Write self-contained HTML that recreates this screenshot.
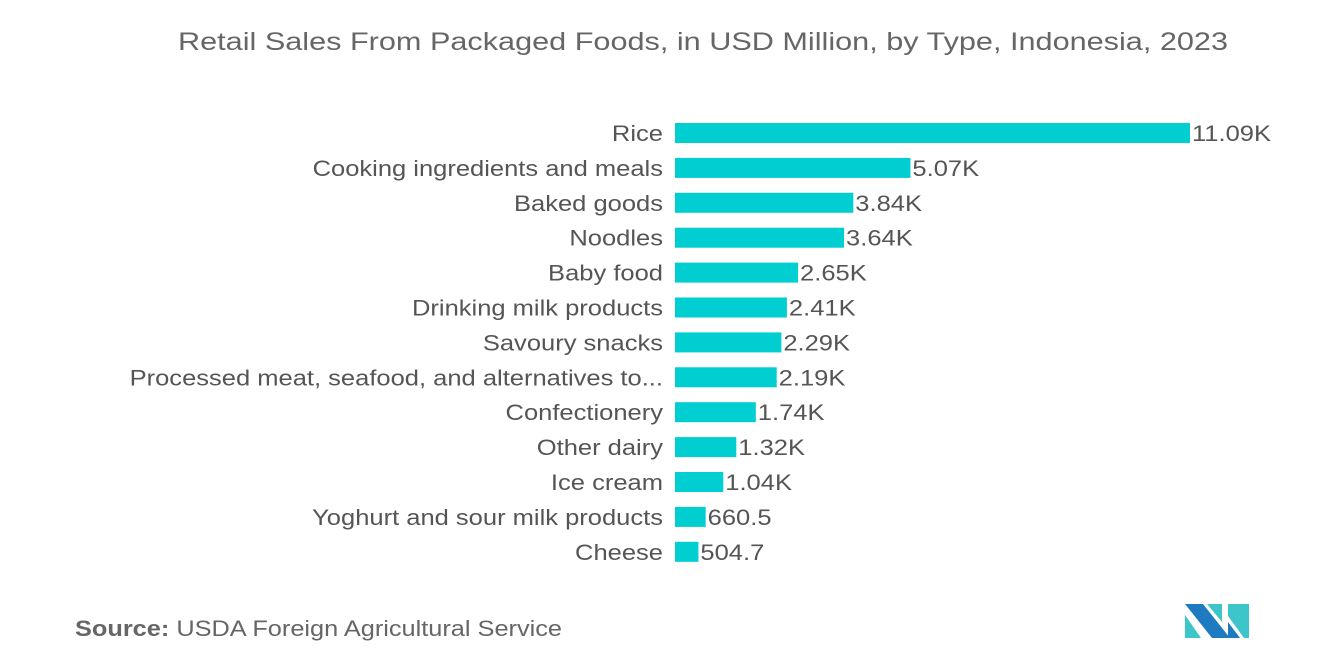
<!DOCTYPE html>
<html><head><meta charset="utf-8"><style>
body{margin:0;width:1320px;height:665px;background:#fff;font-family:"Liberation Sans",sans-serif;overflow:hidden}
</style></head><body>
<svg width="1320" height="665" xmlns="http://www.w3.org/2000/svg">
<text x="178" y="50" textLength="1050" lengthAdjust="spacingAndGlyphs" font-size="25" fill="#666">Retail Sales From Packaged Foods, in USD Million, by Type, Indonesia, 2023</text>
<g id="bars"></g>
<text x="75" y="636" textLength="487" lengthAdjust="spacingAndGlyphs" font-size="22" fill="#666"><tspan font-weight="bold">Source:</tspan>  USDA Foreign Agricultural Service</text>
<g>
<polygon points="1185,604 1203,604 1230,638 1212,638" fill="#1f7bbf"/>
<polygon points="1185,615 1201,638 1185,638" fill="#3cc6c9"/>
<polygon points="1207,604 1222,604 1222,622" fill="#3cc6c9"/>
<polygon points="1228,604 1249,604 1249,638 1244,638 1228,616" fill="#3cc6c9"/>
<polygon points="1228,622 1240,638 1228,638" fill="#1f7bbf"/>
</g>
</svg>
<script>
const categories=["Rice","Cooking ingredients and meals","Baked goods","Noodles","Baby food","Drinking milk products","Savoury snacks","Processed meat, seafood, and alternatives to...","Confectionery","Other dairy","Ice cream","Yoghurt and sour milk products","Cheese"];
const values=[11090,5070,3840,3640,2650,2410,2290,2190,1740,1320,1040,660.5,504.7];
const labels=["11.09K","5.07K","3.84K","3.64K","2.65K","2.41K","2.29K","2.19K","1.74K","1.32K","1.04K","660.5","504.7"];
const g=document.getElementById('bars');
const ns="http://www.w3.org/2000/svg";
const x0=675,xs=v=>v*515/11090,y=i=>133+i*34.9;
function stretch(t){const w=t.getComputedTextLength();t.setAttribute('textLength',w*1.16);t.setAttribute('lengthAdjust','spacingAndGlyphs');}
categories.forEach((c,i)=>{
 const r=document.createElementNS(ns,'rect');
 r.setAttribute('x',x0);r.setAttribute('y',y(i)-10);r.setAttribute('width',xs(values[i]));r.setAttribute('height',20);r.setAttribute('fill','#00ced1');
 
 
 g.appendChild(r);
 const t=document.createElementNS(ns,'text');
 t.setAttribute('x',663);t.setAttribute('y',y(i)+8);t.setAttribute('text-anchor','end');t.setAttribute('font-size','22');t.setAttribute('fill','#555');t.textContent=c;
 
 
 g.appendChild(t);stretch(t);
 const v=document.createElementNS(ns,'text');
 v.setAttribute('x',x0+xs(values[i])+2);v.setAttribute('y',y(i)+8);v.setAttribute('font-size','22');v.setAttribute('fill','#555');v.textContent=labels[i];
 
 
 g.appendChild(v);stretch(v);
});
</script>
</body></html>
